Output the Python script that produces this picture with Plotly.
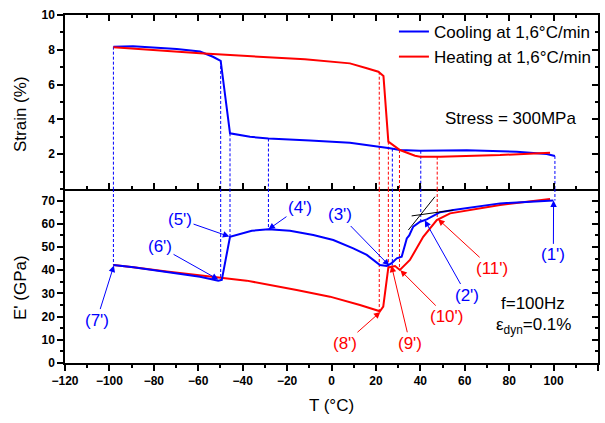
import plotly.graph_objects as go
from plotly.subplots import make_subplots

# ---------------- data ----------------
# Strain (top panel)
T_cool_strain = [100.6, 96.9, 83.4, 60.9, 39.9, 30.8, 26.3, 21.1, 8.3, -9.7, -28.4, -36.7,
                 -45.7, -49.9, -53.4, -59.2, -69.7, -89.4, -98.2]
strain_cool = [1.90, 2.01, 2.14, 2.22, 2.20, 2.24, 2.34, 2.43, 2.66, 2.79, 2.90, 3.00,
               3.20, 7.36, 7.60, 7.90, 8.05, 8.20, 8.18]

T_heat_strain = [-98.2, -59.2, -12.0, 8.3, 15.9, 21.1, 23.4, 25.6, 30.8, 37.6, 39.9, 48.9, 75.9, 98.4]
strain_heat = [8.14, 7.80, 7.45, 7.22, 6.94, 6.74, 6.49, 2.72, 2.24, 1.91, 1.86, 1.86, 1.95, 2.09]

# Storage modulus E' (bottom panel)
T_cool_E = [99.9, 75.9, 54.9, 48.9, 42.9, 39.9, 36.8, 35.0, 33.9, 31.6, 29.4, 27.1, 24.9, 21.8,
            15.9, 9.8, 0.8, -8.2, -18.7, -28.4, -35.9, -45.7, -49.4, -51.0, -59.2, -74.2, -89.2, -98.2]
E_cool = [70.0, 68.8, 65.9, 65.0, 61.9, 60.9, 58.8, 55.0, 53.7, 45.8, 45.1, 43.0, 41.8, 42.2,
          46.6, 49.4, 53.0, 55.2, 57.0, 57.6, 57.0, 54.4, 35.8, 35.5, 37.2, 39.4, 41.3, 42.2]

T_heat_E = [-98.2, -89.2, -74.2, -59.2, -38.2, -15.7, -0.7, 12.8, 21.8, 23.3, 25.6,
            28.6, 30.8, 35.3, 41.3, 47.4, 53.4, 75.9, 98.4]
E_heat = [42.2, 41.3, 39.4, 37.9, 35.5, 31.5, 28.6, 25.0, 22.3, 24.3, 41.2,
          41.8, 40.1, 44.4, 54.4, 61.6, 64.5, 68.1, 70.7]

# Vertical guide lines linking the two panels
guide_T_blue = [-98.2, -49.9, -45.7, -28.4, 27.4, 40.2, 100.6]
guide_strain_blue = [8.18, 7.36, 3.20, 2.90, 2.32, 2.20, 1.90]
guide_E_blue = [42.2, 35.8, 54.4, 57.6, 42.0, 61.0, 70.0]

guide_T_red = [21.5, 25.6, 30.6, 47.6]
guide_strain_red = [6.74, 2.72, 2.24, 1.86]
guide_E_red = [22.5, 41.2, 40.2, 61.8]

# Point labels (text position and arrow tip)
labels = ["(1')", "(2')", "(3')", "(4')", "(5')", "(6')", "(7')",
          "(8')", "(9')", "(10')", "(11')"]
label_T = [99.9, 60.9, 3.8, -14.2, -68.2, -77.2, -105.7, 6.1, 35.3, 51.9, 72.1]
label_E = [46.6, 29.3, 63.8, 67.2, 61.9, 50.1, 18.5, 8.5, 8.5, 20.0, 40.8]
tip_T = [100.0, 42.0, 26.0, -28.4, -46.0, -51.0, -98.0, 22.0, 27.0, 31.0, 48.0]
tip_E = [70.0, 61.5, 42.0, 57.6, 54.5, 36.0, 42.0, 22.0, 42.0, 40.0, 62.0]
label_colors = ["#0000ff"] * 7 + ["#ff0000"] * 4

# Tangent construction lines
tan1_T = [34.6, 46.6]
tan1_E = [57.3, 71.7]
tan2_T = [36.1, 54.9]
tan2_E = [63.4, 65.9]

BLUE = "#0000ff"
RED = "#ff0000"
FONT = "Arial, Liberation Sans, sans-serif"

fig = make_subplots(rows=2, cols=1, shared_xaxes=True, vertical_spacing=0)

fig.add_trace(go.Scatter(x=T_cool_strain, y=strain_cool, mode="lines",
                         line=dict(color=BLUE, width=2), name="Cooling at 1,6°C/min"), row=1, col=1)
fig.add_trace(go.Scatter(x=T_heat_strain, y=strain_heat, mode="lines",
                         line=dict(color=RED, width=2), name="Heating at 1,6°C/min"), row=1, col=1)
fig.add_trace(go.Scatter(x=T_heat_E, y=E_heat, mode="lines",
                         line=dict(color=RED, width=2), showlegend=False), row=2, col=1)
fig.add_trace(go.Scatter(x=T_cool_E, y=E_cool, mode="lines",
                         line=dict(color=BLUE, width=2), showlegend=False), row=2, col=1)
fig.add_trace(go.Scatter(x=tan1_T, y=tan1_E, mode="lines",
                         line=dict(color="black", width=1), showlegend=False), row=2, col=1)
fig.add_trace(go.Scatter(x=tan2_T, y=tan2_E, mode="lines",
                         line=dict(color="black", width=1), showlegend=False), row=2, col=1)

# guide lines
for Ts, Ss, Es, col in [(guide_T_blue, guide_strain_blue, guide_E_blue, BLUE),
                        (guide_T_red, guide_strain_red, guide_E_red, RED)]:
    for t, s, e in zip(Ts, Ss, Es):
        fig.add_shape(type="line", xref="x", yref="y", x0=t, x1=t, y0=s, y1=0,
                      line=dict(color=col, width=1, dash="3px,2px"), layer="below")
        fig.add_shape(type="line", xref="x2", yref="y2", x0=t, x1=t, y0=75, y1=e,
                      line=dict(color=col, width=1, dash="3px,2px"), layer="below")

# labels with arrows
for txt, lx, ly, tx, ty, c in zip(labels, label_T, label_E, tip_T, tip_E, label_colors):
    fig.add_annotation(x=tx, y=ty, xref="x2", yref="y2", ax=lx, ay=ly, axref="x2", ayref="y2",
                       text=txt, showarrow=True, arrowhead=2, arrowsize=1.3, arrowwidth=1,
                       arrowcolor=c, font=dict(family=FONT, size=17, color=c))

fig.add_annotation(x=80.4, y=4.06, xref="x", yref="y", text="Stress = 300MPa", showarrow=False,
                   font=dict(family=FONT, size=17, color="black"))
fig.add_annotation(x=90.8, y=25.8, xref="x2", yref="y2", text="f=100Hz", showarrow=False,
                   font=dict(family=FONT, size=17, color="black"))
fig.add_annotation(x=90.8, y=16.0, xref="x2", yref="y2", text="ε<sub>dyn</sub>=0.1%", showarrow=False,
                   font=dict(family=FONT, size=17, color="black"))

# axis titles
fig.add_annotation(x=-0.0844, y=0.7155, xref="paper", yref="paper", text="Strain (%)",
                   xanchor="center", yanchor="middle",
                   textangle=-90, showarrow=False, font=dict(family=FONT, size=17, color="black"))
fig.add_annotation(x=-0.0844, y=0.2155, xref="paper", yref="paper", text="E' (GPa)",
                   xanchor="center", yanchor="middle",
                   textangle=-90, showarrow=False, font=dict(family=FONT, size=17, color="black"))

# overlay axes for inward right-side ticks
fig.add_trace(go.Scatter(x=[None], y=[None], yaxis="y3", xaxis="x", showlegend=False))
fig.add_trace(go.Scatter(x=[None], y=[None], yaxis="y4", xaxis="x2", showlegend=False))

tickfont = dict(family=FONT, size=12, color="black", weight="bold")
axline = dict(showline=True, linecolor="black", linewidth=1.5, showgrid=False, zeroline=False,
              tickcolor="black", tickwidth=1.5)

fig.update_layout(
    width=605, height=423,
    margin=dict(l=65, r=7, t=15, b=60),
    plot_bgcolor="white", paper_bgcolor="white",
    font=dict(family=FONT, color="black"),
    showlegend=True,
    legend=dict(x=0.998, y=1.003, xanchor="right", yanchor="top", bgcolor="rgba(0,0,0,0)",
                font=dict(family=FONT, size=17, color="black"), tracegroupgap=0),
    xaxis=dict(range=[-120, 120], dtick=20, tick0=0, ticks="inside", ticklen=6, mirror="ticks",
               showticklabels=False, minor=dict(ticks="inside", dtick=10, ticklen=3, tickcolor="black"),
               **axline),
    xaxis2=dict(range=[-120, 120], dtick=20, tick0=0, ticks="outside", ticklen=6,
                minor=dict(ticks="outside", dtick=10, ticklen=3, tickcolor="black"),
                tickfont=tickfont,
                title=dict(text="T (°C)", font=dict(family=FONT, size=17), standoff=12),
                **axline),
    yaxis=dict(range=[0, 10], tickvals=[2, 4, 6, 8, 10], ticks="outside", ticklen=6,
               minor=dict(ticks="outside", dtick=1, ticklen=3, tickcolor="black"),
               tickfont=tickfont, **axline),
    yaxis2=dict(range=[0, 75], dtick=10, tick0=0, ticks="outside", ticklen=6,
                minor=dict(ticks="outside", dtick=5, ticklen=3, tickcolor="black"),
                tickfont=tickfont, **axline),
    yaxis3=dict(range=[0, 10], overlaying="y", side="right", anchor="x", dtick=2, tick0=0,
                ticks="inside", ticklen=6, showticklabels=False,
                minor=dict(ticks="inside", dtick=1, ticklen=3, tickcolor="black"), **axline),
    yaxis4=dict(range=[0, 75], overlaying="y2", side="right", anchor="x2", dtick=10, tick0=0,
                ticks="inside", ticklen=6, showticklabels=False,
                minor=dict(ticks="inside", dtick=5, ticklen=3, tickcolor="black"), **axline),
)

fig.write_html("out.html")
